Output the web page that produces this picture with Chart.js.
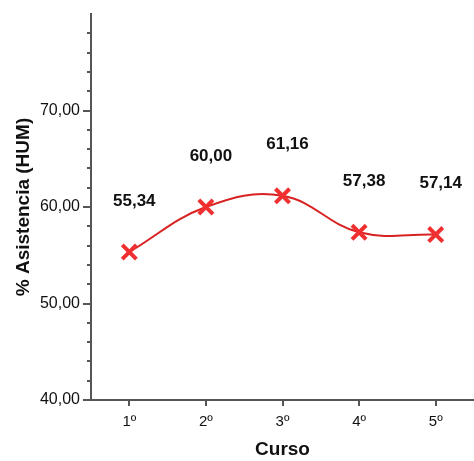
<!DOCTYPE html>
<html>
<head>
<meta charset="utf-8">
<script src="https://cdn.jsdelivr.net/npm/chart.js@4/dist/chart.umd.min.js"></script>
<style>
html,body{margin:0;padding:0;background:#fff;}
#wrap{width:474px;height:461px;position:relative;}
</style>
</head>
<body>
<div id="wrap"><canvas id="c" width="474" height="461"></canvas></div>
<script>
const categories = ['1º', '2º', '3º', '4º', '5º'];
const asistencia = [55.34, 60.00, 61.16, 57.38, 57.14];
const yMin = 40, yMax = 80, yMajorStep = 10, yMinorStep = 2;
const xTitle = 'Curso';
const yTitle = '% Asistencia (HUM)';

function fmt(v){ return v.toFixed(2).replace('.', ','); }

const axisColor = '#555555';
const FONT = '"Liberation Sans", Arial, sans-serif';

const tickPlugin = {
  id: 'tickMarks',
  afterDraw(chart) {
    const ctx = chart.ctx;
    const y = chart.scales.y, x = chart.scales.x;
    ctx.save();
    ctx.strokeStyle = axisColor;
    ctx.lineWidth = 2;
    for (let v = yMin; v < yMax; v += yMinorStep) {
      const py = Math.round(y.getPixelForValue(v));
      const major = (v % yMajorStep) === 0;
      const len = major ? 8 : 4;
      ctx.beginPath();
      ctx.moveTo(x.left - len, py);
      ctx.lineTo(x.left, py);
      ctx.stroke();
    }
    categories.forEach((c, i) => {
      const px = Math.round(x.getPixelForValue(i));
      ctx.beginPath();
      ctx.moveTo(px, y.bottom);
      ctx.lineTo(px, y.bottom + 6);
      ctx.stroke();
    });
    const meta = chart.getDatasetMeta(0);
    ctx.fillStyle = '#111';
    ctx.font = 'bold 17px ' + FONT;
    ctx.textAlign = 'center';
    ctx.textBaseline = 'middle';
    meta.data.forEach((pt, i) => {
      ctx.fillText(fmt(asistencia[i]), pt.x + 5, pt.y - 51);
    });
    ctx.restore();
  }
};

new Chart(document.getElementById('c'), {
  type: 'line',
  data: {
    labels: categories,
    datasets: [{
      data: asistencia,
      borderColor: '#d82222',
      borderWidth: 2,
      tension: 0.4,
      fill: false,
      pointStyle: 'crossRot',
      pointRadius: 10,
      pointHoverRadius: 10,
      pointBorderWidth: 4,
      pointBorderColor: '#f03030',
      pointBackgroundColor: '#f03030'
    }]
  },
  options: {
    responsive: false,
    animation: false,
    events: [],
    layout: { autoPadding: false, padding: { top: 14, right: -2, left: 0, bottom: 0 } },
    plugins: { legend: { display: false }, tooltip: { enabled: false } },
    scales: {
      x: {
        type: 'category',
        offset: true,
        grid: { display: false, drawTicks: false },
        border: { display: true, color: axisColor, width: 2 },
        ticks: { color: '#111', font: { family: FONT, size: 15 }, padding: 13 },
        title: { display: true, text: xTitle, color: '#111', font: { family: FONT, size: 19, weight: 'bold' }, padding: { top: 0, bottom: 0 } },
        afterFit(s) { s.height = 61; s.paddingLeft = 0; s.paddingRight = 0; }
      },
      y: {
        min: yMin, max: yMax,
        grid: { display: false, drawTicks: false },
        border: { display: true, color: axisColor, width: 2 },
        ticks: {
          stepSize: yMajorStep,
          color: '#111',
          font: { family: FONT, size: 16 },
          padding: 11,
          callback: (v) => v >= yMax ? '' : fmt(v)
        },
        title: { display: true, text: yTitle, color: '#111', font: { family: FONT, size: 19, weight: 'bold' }, padding: { top: 12, bottom: 0 } },
        afterFit(s) { s.width = 91; s.paddingTop = 0; s.paddingBottom = 0; }
      }
    }
  },
  plugins: [tickPlugin]
});
</script>
</body>
</html>
